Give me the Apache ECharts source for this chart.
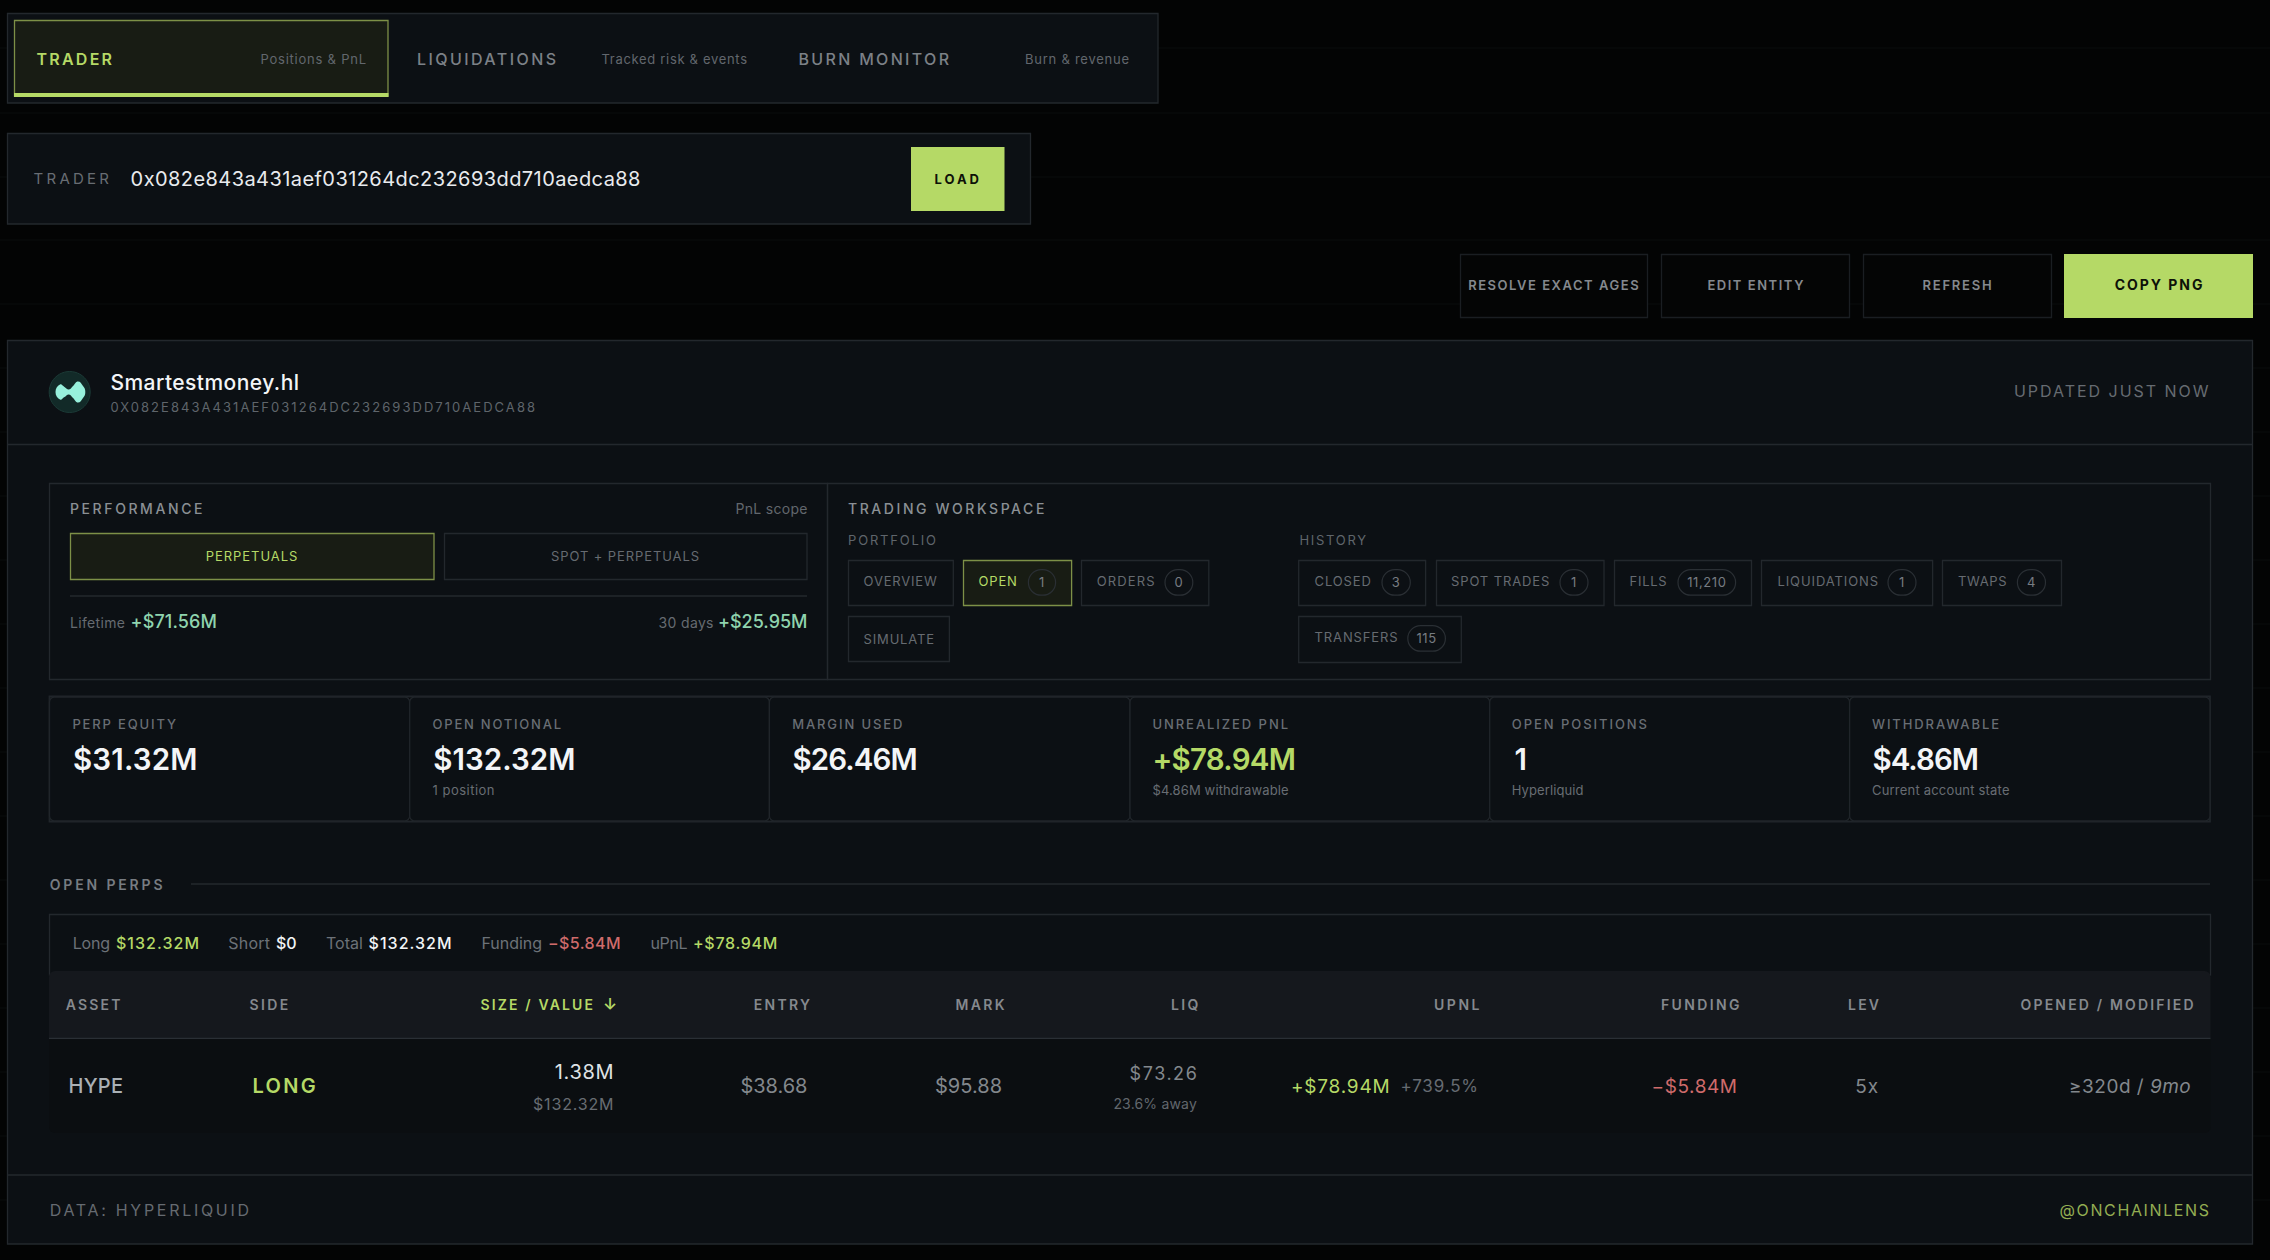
<!DOCTYPE html>
<html><head><meta charset="utf-8">
<style>html,body{margin:0;padding:0;background:#030404}#c{width:2270px;height:1260px}</style>
<script src="https://cdn.jsdelivr.net/npm/echarts@6/dist/echarts.min.js"></script>
</head><body><div id="c"></div>
<script>
// ---- content ----
const navTitles = ['TRADER','LIQUIDATIONS','BURN MONITOR'];
const navNotes = ['Positions & PnL','Tracked risk & events','Burn & revenue'];
const traderLabel = 'TRADER';
const traderAddress = '0x082e843a431aef031264dc232693dd710aedca88';
const actionLabels = ['RESOLVE EXACT AGES','EDIT ENTITY','REFRESH','COPY PNG'];
const entityName = 'Smartestmoney.hl';
const entityAddress = '0X082E843A431AEF031264DC232693DD710AEDCA88';
const updatedText = 'UPDATED JUST NOW';
const scopeLabels = ['PERPETUALS','SPOT + PERPETUALS'];
const perfLabels = ['Lifetime','30 days'];
const perfValues = ['+$71.56M','+$25.95M'];
const portfolioTabs = ['OVERVIEW','OPEN','ORDERS','SIMULATE'];
const portfolioCounts = [null,'1','0',null];
const historyTabs = ['CLOSED','SPOT TRADES','FILLS','LIQUIDATIONS','TWAPS','TRANSFERS'];
const historyCounts = ['3','1','11,210','1','4','115'];
const statLabels = ['PERP EQUITY','OPEN NOTIONAL','MARGIN USED','UNREALIZED PNL','OPEN POSITIONS','WITHDRAWABLE'];
const statValues = ['$31.32M','$132.32M','$26.46M','+$78.94M','1','$4.86M'];
const statNotes = ['','1 position','','$4.86M withdrawable','Hyperliquid','Current account state'];
const summaryLabels = ['Long','Short','Total','Funding','uPnL'];
const summaryValues = ['$132.32M','$0','$132.32M','\u2212$5.84M','+$78.94M'];
const tableHeaders = ['ASSET','SIDE','SIZE / VALUE','ENTRY','MARK','LIQ','UPNL','FUNDING','LEV','OPENED / MODIFIED'];
const rowAsset = ['HYPE','LONG','1.38M','$132.32M','$38.68','$95.88','$73.26','23.6% away','+$78.94M','+739.5%','\u2212$5.84M','5x','\u2265320d /','9mo'];
const footerTexts = ['DATA: HYPERLIQUID','@ONCHAINLENS'];

// ---- palette ----
const ACC='#b5d966', PANEL='#0c1014', LINE='#23282d', WHITE='#f3f5f7', MINT='#8fd4ae', RED='#cf6b6b', ACT='#181c14', ACTL='#7d9047', DARK='#0d1108';
const FONT='Inter, "Noto Sans", sans-serif';

const els=[], spaced=[];
const mctx=document.createElement('canvas').getContext('2d');
function box(x0,y0,x1,y1,o){o=o||{};
  els.push({type:'rect',silent:true,shape:{x:x0,y:y0,width:x1-x0,height:y1-y0,r:o.r||0},
    style:{fill:o.fill||'none',stroke:o.stroke===undefined?LINE:o.stroke,lineWidth:o.lw===undefined?1.3:o.lw}});
}
function hline(x0,x1,y,c,lw){els.push({type:'line',silent:true,shape:{x1:x0,y1:y,x2:x1,y2:y},style:{stroke:c||LINE,lineWidth:lw||1.3}});}
// text fitted between two horizontal extents through letter spacing
function txt(s,x0,x1,y,size,weight,fill,italic){
  const font=(italic?'italic ':'')+weight+' '+size+'px '+FONT;
  mctx.font=font;
  const nat=mctx.measureText(s).width;
  const ls=s.length>1?(x1-x0-nat)/(s.length-1):0;
  els.push({type:'text',silent:true,x:x0,y:y-0.8,style:{text:s,font:font,fill:fill,textAlign:'left',textVerticalAlign:'middle'}});
  spaced.push([s,ls]);
}
function mid(s,cx,y,size,weight,fill,ls){
  const font=weight+' '+size+'px '+FONT;
  els.push({type:'text',silent:true,x:cx,y:y-0.5,style:{text:s,font:font,fill:fill,textAlign:'center',textVerticalAlign:'middle'}});
  spaced.push([s,ls]);
}

// ---- background rules ----
[48,113,177,240,304,368,432,496,560,624,688,752,816,880,944,1008,1072,1136,1200].forEach(y=>hline(0,2270,y,'#080a0a',1.3));

// ---- nav ----
box(7.5,13.5,1158,103,{fill:PANEL});
box(14.5,20.5,388,96,{fill:ACT,stroke:ACTL});
els.push({type:'rect',silent:true,shape:{x:14,y:93,width:374.5,height:4},style:{fill:ACC}});
const navT=[[36.5,112],[416.9,556],[798.5,949]], navN=[[260.5,366],[601.5,747],[1025,1129]];
navTitles.forEach((s,i)=>txt(s,navT[i][0],navT[i][1],59.5,16,i==0?600:500,i==0?ACC:'#7c8187'));
navNotes.forEach((s,i)=>txt(s,navN[i][0],navN[i][1],59.5,13,400,'#62676d'));

// ---- trader search ----
box(7.5,133.5,1030.5,224,{fill:PANEL});
txt(traderLabel,33.6,109,179.5,15,400,'#686d73');
txt(traderAddress,130.6,640.5,180,20,400,'#e9ebee');
els.push({type:'rect',silent:true,shape:{x:911,y:147,width:93.5,height:64},style:{fill:ACC}});
txt('LOAD',934.5,979,179.5,13,700,DARK);

// ---- actions ----
const actX=[[1460.5,1647.5],[1661.5,1849.5],[1863.5,2051.5]], actT=[[1468.2,1638.6],[1707.4,1803.4],[1922.5,1991.6],[2114.8,2202.4]];
actX.forEach(a=>box(a[0],254.5,a[1],317.5,{stroke:'#1a1e22',fill:'#040505'}));
els.push({type:'rect',silent:true,shape:{x:2064,y:254,width:189,height:64},style:{fill:ACC}});
actionLabels.forEach((s,i)=>txt(s,actT[i][0],actT[i][1],285.5,i==3?14:13,i==3?700:600,i==3?DARK:'#85898e'));

// ---- main panel ----
box(7.5,340.5,2252.5,1244,{fill:PANEL});
hline(8,2252,444.5);
els.push({type:'circle',silent:true,shape:{cx:69.7,cy:392,r:20.5},style:{fill:'#122a28',stroke:'#1b3a36',lineWidth:1}});
els.push({type:'polygon',silent:true,shape:{smooth:0.5,points:[[55.5,392],[60,384.5],[64.5,387],[69,389.5],[73,386],[78,381.5],[83,386],[85.3,392],[83,398],[78,402.5],[73,398],[69,394.5],[64.5,397],[60,399.5]]},style:{fill:'#97f1dc'}});
txt(entityName,110.5,299,383,21,500,WHITE);
txt(entityAddress,110.5,535,408,13,400,'#5f656b');
txt(updatedText,2014,2208.5,392,16,400,'#666b71');

// ---- performance ----
box(49.5,483.5,827.5,679.5);
box(827.5,483.5,2210.5,679.5);
txt('PERFORMANCE',70,202.5,509,14,500,'#8b9095');
txt('PnL scope',735.5,807.5,509,14,400,'#62676d');
box(70.5,533.5,434,579.5,{fill:ACT,stroke:ACTL});
box(444.5,533.5,807,579.5);
txt(scopeLabels[0],205.7,297.3,556.7,13,400,ACC);
txt(scopeLabels[1],551,699,556.7,13,400,'#666b71');
hline(70,807,596);
txt(perfLabels[0],70,125,623.5,14,400,'#666b71');
txt(perfValues[0],130.5,217,622.5,18,500,MINT);
txt(perfLabels[1],658.5,713.5,623.5,14,400,'#666b71');
txt(perfValues[1],718,807.5,622.5,18,500,MINT);

// ---- workspace ----
txt('TRADING WORKSPACE',848,1044.4,509,14,500,'#8b9095');
txt('PORTFOLIO',848,936,540.7,13,400,'#5f656b');
txt('HISTORY',1299.4,1366,540.7,13,400,'#5f656b');
const chips=[
 [portfolioTabs[0],null,848.5,953.3,560.5,605.5,863.6,936.8,0,0,582.2,false],
 [portfolioTabs[1],portfolioCounts[1],963.5,1071.6,560.5,605.5,978.5,1016.8,1028.4,1055.6,581.7,true],
 [portfolioTabs[2],portfolioCounts[2],1081.5,1208.8,560.5,605.5,1096.8,1154.5,1165,1192.8,581.7,false],
 [portfolioTabs[3],null,848.5,949.4,616.5,661.5,863.6,934,0,0,639.3,false],
 [historyTabs[0],historyCounts[0],1298.7,1425.6,560.5,605.5,1314.6,1370.8,1382,1410.3,581.7,false],
 [historyTabs[1],historyCounts[1],1436.5,1604,560.5,605.5,1451,1549.3,1560,1588,581.7,false],
 [historyTabs[2],historyCounts[2],1614.5,1751.5,560.5,605.5,1629.5,1666.7,1678,1735.6,581.7,false],
 [historyTabs[3],historyCounts[3],1761.5,1932.6,560.5,605.5,1777.5,1878,1888,1916,581.7,false],
 [historyTabs[4],historyCounts[4],1942.5,2061.5,560.5,605.5,1958,2006.6,2017.4,2045.5,581.7,false],
 [historyTabs[5],historyCounts[5],1298.7,1461.3,616.5,662.5,1314.6,1397.6,1407.8,1445.4,637.7,false]
];
chips.forEach(c=>{
  box(c[2],c[4],c[3],c[5],c[11]?{fill:ACT,stroke:ACTL}:{});
  txt(c[0],c[6],c[7],c[10],13,400,c[11]?ACC:'#666b71');
  if(c[1]!==null){
    const bh=25.6,by=c[10]+0.7;
    box(c[8],by-bh/2,c[9],by+bh/2,{r:bh/2,stroke:'#2a2f34',lw:1.2});
    mid(c[1],(c[8]+c[9])/2,by,13,400,'#777c82',0.6);
  }
});

// ---- stat cards ----
box(49.5,696.5,2210,821.5,{fill:'#07090b',stroke:'#20252a',lw:1.8});
const cellX=[49.5,409.7,769.4,1130,1489.7,1849.6,2210];
for(let i=0;i<6;i++) box(cellX[i],697,cellX[i+1],821,{r:5,fill:PANEL,stroke:'#20252a',lw:1.3});
const statL=[[72.4,176],[432.6,561],[792.2,902.4],[1152.4,1288],[1511.8,1647],[1872,1999]];
const statV=[[73,197.4],[433.2,575.5],[792.5,917.8],[1152.4,1296],[1514.4,1528],[1872.5,1979]];
const statN=[[0,0],[432.6,494.5],[0,0],[1152.4,1288.6],[1511.8,1583.4],[1872,2009.5]];
statLabels.forEach((s,i)=>txt(s,statL[i][0],statL[i][1],724.5,13,500,'#696e74'));
statValues.forEach((s,i)=>txt(s,statV[i][0],statV[i][1],759.5,29.5,600,i==3?ACC:WHITE));
statNotes.forEach((s,i)=>{if(s)txt(s,statN[i][0],statN[i][1],791,13,400,'#686d73');});

// ---- open perps ----
txt('OPEN PERPS',49.7,162.6,885,14,600,'#777c82');
hline(191,2210,884);
box(49.5,914.5,2210.5,975);
const sumL=[[72.7,110],[228.3,270],[326,363],[481.5,542],[650.5,687.5]];
const sumV=[[116,199],[276,296.6],[368.6,451.5],[548,620.5],[693,777.4]];
const sumC=[ACC,WHITE,WHITE,RED,ACC];
summaryLabels.forEach((s,i)=>txt(s,sumL[i][0],sumL[i][1],943.5,16,400,'#6c7278'));
summaryValues.forEach((s,i)=>txt(s,sumV[i][0],sumV[i][1],943.5,16,500,sumC[i]));
els.push({type:'rect',silent:true,shape:{x:49,y:971,width:2161.5,height:67,r:[6,6,0,0]},style:{fill:'#15181d'}});
hline(49,2210.5,1038.5,'#2a2f35',1.3);
els.push({type:'rect',silent:true,shape:{x:49,y:1039,width:2161.5,height:94,r:[0,0,6,6]},style:{fill:'#0b0e11'}});
const headX=[[65.7,120.5],[249.4,288.3],[480.5,593],[753.8,810],[955.4,1004.7],[1171,1198.4],[1434,1479.5],[1661,1739.5],[1848,1879],[2020.6,2193.5]];
tableHeaders.forEach((s,i)=>txt(s,headX[i][0],headX[i][1],1005,14,600,i==2?ACC:'#85898e'));
txt('\u2193',603,615.4,1005,16,600,ACC);
const rowX=[[68.5,123],[252.5,315.7],[554.8,613.5],[533,613.5],[740.4,807.4],[935,1002],[1129.6,1196.8],[1113.4,1196.8],[1291,1389.6],[1400.5,1478],[1651.5,1737],[1855.3,1878],[2069,2143.7],[2150,2190.7]];
const rowY=[1087,1087,1072.3,1104.3,1087,1087,1074,1104,1087,1087,1087,1087,1087,1087];
const rowS=[20,20,20,16,20,20,18,14,19,17,19,19,19,19];
const rowW=[500,600,400,400,400,400,400,400,400,400,400,400,400,400];
const rowC=['#aab0b5',ACC,'#dfe2e5','#686d73','#83888d','#83888d','#83888d','#62676d',ACC,'#666b71',RED,'#83888d','#83888d','#83888d'];
rowAsset.forEach((s,i)=>txt(s,rowX[i][0],rowX[i][1],rowY[i],rowS[i],rowW[i],rowC[i],i==13));

// ---- footer ----
hline(8,2252,1175);
txt(footerTexts[0],49.7,249,1210.5,16,400,'#666b71');
txt(footerTexts[1],2059.5,2209,1210.5,16,400,'#93ad52');

const chart=echarts.init(document.getElementById('c'),null,{renderer:'svg',width:2270,height:1260});
chart.setOption({animation:false,backgroundColor:'#030404',graphic:{elements:els}});
function applySpacing(){
  const q={};
  spaced.forEach(p=>{(q[p[0]]=q[p[0]]||[]).push(p[1]);});
  document.querySelectorAll('#c svg text').forEach(t=>{
    const l=q[t.textContent];
    if(l&&l.length){t.setAttribute('letter-spacing',l.shift().toFixed(3));}
  });
}
applySpacing();
chart.on('finished',applySpacing);
requestAnimationFrame(applySpacing);
</script></body></html>
